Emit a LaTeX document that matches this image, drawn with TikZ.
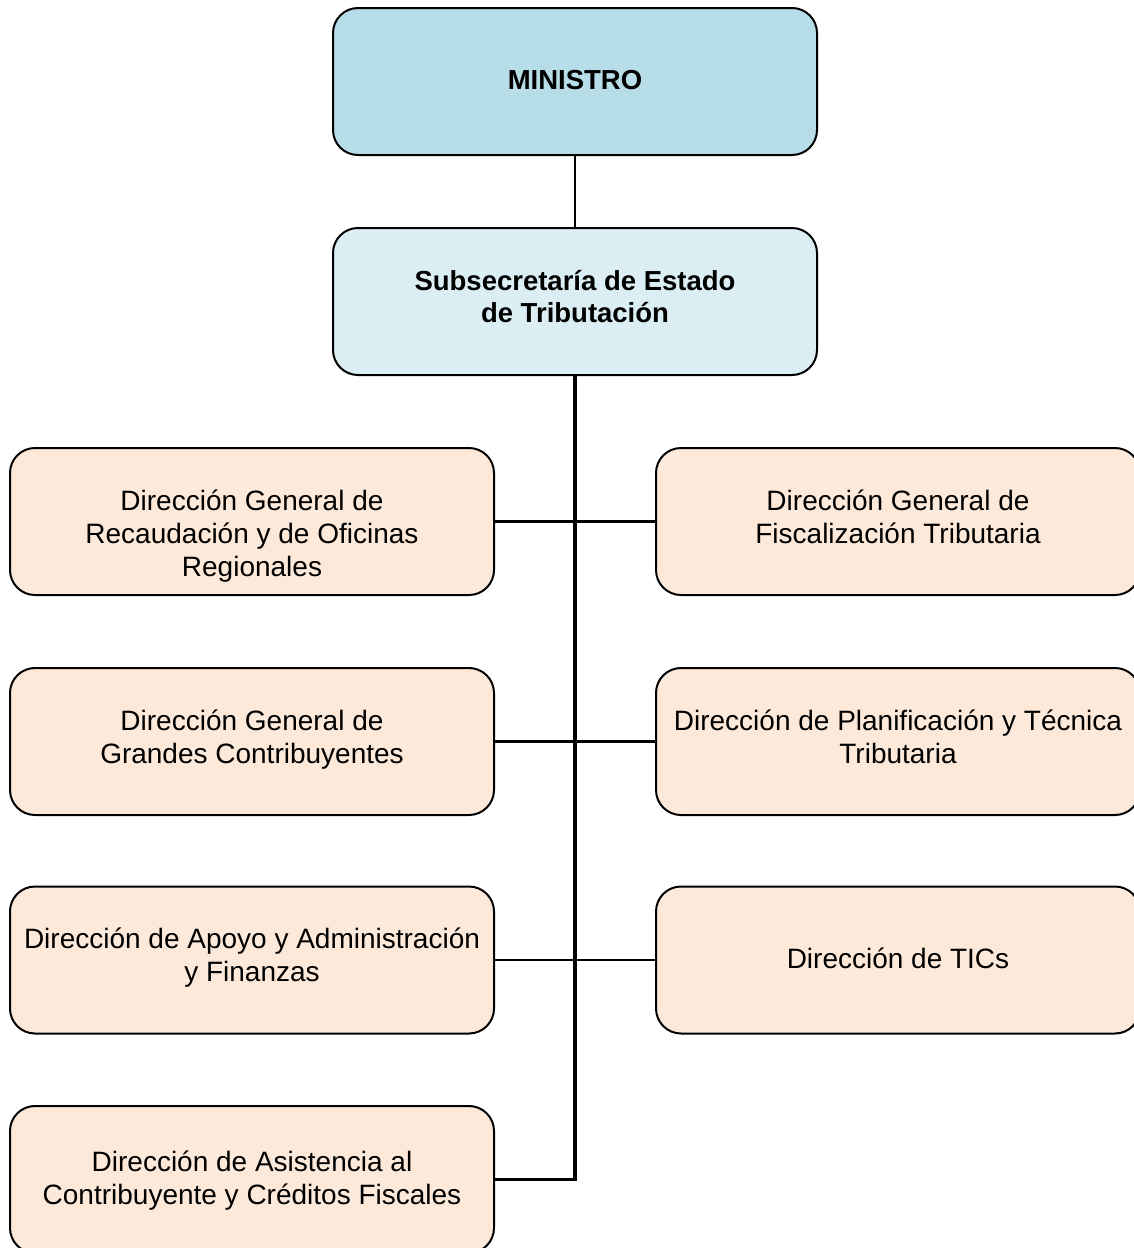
\documentclass[tikz,border=0pt]{standalone}
\usepackage{fontspec}
\setmainfont{Liberation Sans}
\definecolor{minfill}{HTML}{B7DDE8}
\definecolor{subfill}{HTML}{DAEEF3}
\definecolor{dirfill}{HTML}{FDE9D9}
\begin{document}
\begin{tikzpicture}[x=1pt,y=-1pt,
  box/.style={draw=black, line width=2pt, rounded corners=25pt,
    minimum width=484pt, minimum height=147pt, inner sep=0pt, outer sep=0pt},
  minbox/.style={box, fill=minfill},
  subbox/.style={box, fill=subfill},
  dirbox/.style={box, fill=dirfill},
  toptxt/.style={font=\fontsize{27.5}{32.5}\selectfont\bfseries, align=center,
    inner sep=0pt, execute at begin node=\strut, execute at end node=\strut},
  dirtxt/.style={font=\fontsize{28}{33}\selectfont, align=center,
    inner sep=0pt, execute at begin node=\strut, execute at end node=\strut},
  link/.style={draw=black, line width=2.3pt},
  trunk/.style={draw=black, line width=4pt}]
\useasboundingbox (0,0) rectangle (1134,1248);
\clip (0,0) rectangle (1134,1248);

% boxes
\node[minbox] (min) at (575,81.5) {};
\node[subbox] (sub) at (575,301.5) {};
\node[dirbox] (l1) at (252,521.5) {};
\node[dirbox] (r1) at (898,521.5) {};
\node[dirbox] (l2) at (252,741.5) {};
\node[dirbox] (r2) at (898,741.5) {};
\node[dirbox] (l3) at (252,960) {};
\node[dirbox] (r3) at (898,960) {};
\node[dirbox] (l4) at (252,1179.5) {};

% connectors
\coordinate (j4) at (575,1179.5);
\coordinate (j4b) at (575,1180.7);
\draw[line width=2pt] (min.south) -- (sub.north);
\draw[trunk] (sub.south) -- (j4b);
\draw[link] (l4.east) -- ([xshift=2pt]j4);
\draw[link] (l1.east) -- (r1.west);
\draw[link] (l2.east) -- (r2.west);
\draw[link] (l3.east) -- (r3.west);

% texts
\node[toptxt] (mint) at (575,83) {MINISTRO};
\node[toptxt] (subt) at (575,301.5) {Subsecretaría de Estado\\de Tributación};
\node[dirtxt] (l1t) at (252,538) {Dirección General de\\Recaudación y de Oficinas\\Regionales};
\node[dirtxt] (r1t) at (898,521.5) {Dirección General de\\Fiscalización Tributaria};
\node[dirtxt] (l2t) at (252,741.5) {Dirección General de\\Grandes Contribuyentes};
\node[dirtxt] (r2t) at (898,741.5) {Dirección de Planificación y Técnica\\Tributaria};
\node[dirtxt] (l3t) at (252,960) {Dirección de Apoyo y Administración\\y Finanzas};
\node[dirtxt] (r3t) at (898,961.5) {Dirección de TICs};
\node[dirtxt] (l4t) at (252,1183) {Dirección de Asistencia al\\Contribuyente y Créditos Fiscales};
\end{tikzpicture}
\end{document}
